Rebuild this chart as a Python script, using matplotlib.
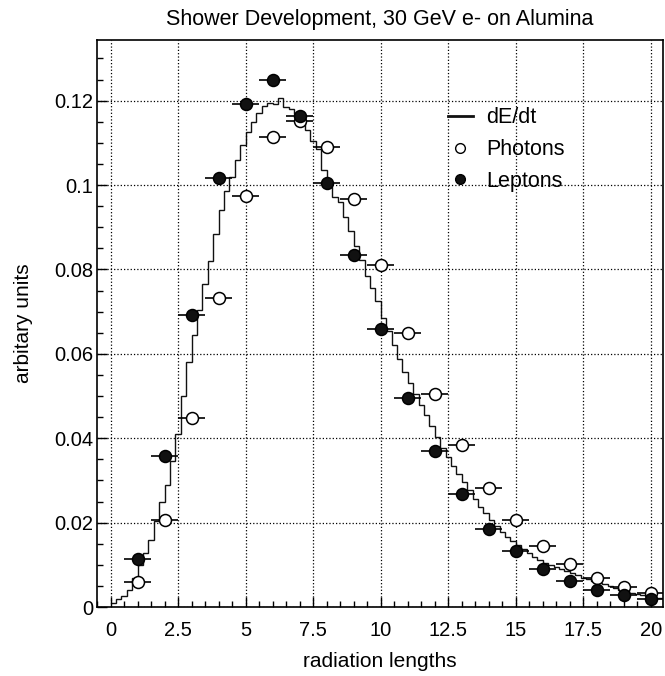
import numpy as np
import matplotlib
matplotlib.use("Agg")
import matplotlib.pyplot as plt
from matplotlib.lines import Line2D
from matplotlib.ticker import MultipleLocator, FormatStrFormatter

plt.rcParams['font.family'] = ['Liberation Sans', 'DejaVu Sans']

# point positions (radiation lengths)
t_points = [1, 2, 3, 4, 5, 6, 7, 8, 9, 10, 11, 12, 13, 14, 15, 16, 17, 18, 19, 20]
t_halfwidth = 0.5

photons = [0.0060, 0.0206, 0.0448, 0.0732, 0.0975, 0.1115, 0.1151, 0.1090, 0.0966, 0.0811,
           0.0649, 0.0504, 0.0383, 0.0281, 0.0206, 0.0145, 0.0101, 0.0070, 0.0048, 0.0034]
leptons = [0.0115, 0.0358, 0.0692, 0.1017, 0.1193, 0.1250, 0.1164, 0.1006, 0.0835, 0.0658,
           0.0495, 0.0369, 0.0269, 0.0186, 0.0134, 0.0090, 0.0061, 0.0040, 0.0028, 0.0018]

# dE/dt histogram, bins of 0.2 X0 starting at 0
bin_width = 0.2
dedt = [0.0010, 0.0018, 0.0026, 0.0040, 0.0068, 0.0100, 0.0128, 0.0158, 0.0205, 0.0248,
        0.0290, 0.0345, 0.0410, 0.0500, 0.0580, 0.0645, 0.0705, 0.0765, 0.0820, 0.0885,
        0.0940, 0.0985, 0.1020, 0.1060, 0.1095, 0.1125, 0.1150, 0.1170, 0.1188, 0.1195,
        0.1192, 0.1206, 0.1185, 0.1180, 0.1168, 0.1155, 0.1130, 0.1105, 0.1085, 0.1035,
        0.0995, 0.0972, 0.0960, 0.0925, 0.0890, 0.0855, 0.0822, 0.0785, 0.0755, 0.0725,
        0.0685, 0.0655, 0.0622, 0.0588, 0.0558, 0.0530, 0.0505, 0.0478, 0.0455, 0.0430,
        0.0403, 0.0378, 0.0355, 0.0334, 0.0315, 0.0296, 0.0277, 0.0257, 0.0238, 0.0222,
        0.0206, 0.0192, 0.0178, 0.0166, 0.0156, 0.0147, 0.0138, 0.0128, 0.0119, 0.0112,
        0.0105, 0.0099, 0.0094, 0.0090, 0.0085, 0.0080, 0.0075, 0.0070, 0.0066, 0.0062,
        0.0058, 0.0054, 0.0049, 0.0045, 0.0041, 0.0038, 0.0034, 0.0031, 0.0028, 0.0026,
        0.0024, 0.0022]

x_ticks = [0, 2.5, 5, 7.5, 10, 12.5, 15, 17.5, 20]
y_ticks = [0, 0.02, 0.04, 0.06, 0.08, 0.1, 0.12]


def main():
    fig = plt.figure(figsize=(6.65, 6.76), dpi=100)
    ax = fig.add_axes([0.146, 0.102, 0.851, 0.839])

    edges = np.arange(len(dedt) + 1) * bin_width
    ax.stairs(dedt, edges, baseline=None, color='#111111', lw=1.0)

    ax.errorbar(t_points, photons, xerr=t_halfwidth, fmt='o', ms=8.6,
                mfc='white', mec='black', mew=1.1, ecolor='black', elinewidth=1.2,
                capsize=0, zorder=3)
    ax.errorbar(t_points, leptons, xerr=t_halfwidth, fmt='o', ms=8.6,
                mfc='#111111', mec='black', mew=1.1, ecolor='black', elinewidth=1.2,
                capsize=0, zorder=4)

    ax.set_xlim(-0.5, 20.45)
    ax.set_ylim(0, 0.1344)
    ax.set_xticks(x_ticks)
    ax.set_yticks(y_ticks)
    ax.xaxis.set_minor_locator(MultipleLocator(0.5))
    ax.yaxis.set_minor_locator(MultipleLocator(0.005))
    ax.xaxis.set_major_formatter(FormatStrFormatter('%g'))
    ax.yaxis.set_major_formatter(FormatStrFormatter('%g'))
    ax.tick_params(which='both', direction='in', labelsize=14.5, width=1)
    ax.tick_params(which='major', length=7)
    ax.tick_params(which='minor', length=4)
    ax.tick_params(axis='x', pad=10)
    ax.tick_params(axis='y', pad=3)
    ax.grid(True, which='major', ls=':', color='black', lw=0.9)
    for s in ax.spines.values():
        s.set_linewidth(1.2)

    ax.set_xlabel('radiation lengths', fontsize=15, labelpad=9)
    ax.set_ylabel('arbitary units', fontsize=15, labelpad=15)
    ax.set_title('Shower Development, 30 GeV e- on Alumina', fontsize=15.5, pad=11)

    handles = [Line2D([], [], color='#111111', lw=2),
               Line2D([], [], ls='', marker='o', ms=7, mfc='white', mec='black'),
               Line2D([], [], ls='', marker='o', ms=7, mfc='#111111', mec='black')]
    ax.legend(handles, ['dE/dt', 'Photons', 'Leptons'], loc='upper left',
              bbox_to_anchor=(0.585, 0.915), frameon=False, fontsize=15.5,
              handlelength=1.2, handletextpad=0.6, labelspacing=0.5)

    fig.savefig('out.png', dpi=100)


if __name__ == "__main__":
    main()
